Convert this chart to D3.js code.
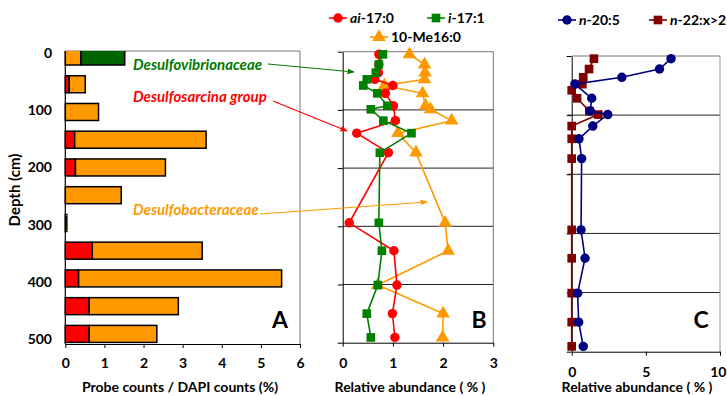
<!DOCTYPE html>
<html>
<head>
<meta charset="utf-8">
<script src="https://cdn.jsdelivr.net/npm/d3@7"></script>
<style>
  body { margin: 0; background: #fff; }
  text { font-family: Lato, "Open Sans", sans-serif; font-weight: bold; }
</style>
</head>
<body>
<div id="chart"></div>
<script>
// panel A: FISH probe counts, one bar per sample
var barDepths = ["0", "50", "100", "150", "200", "250", "300", "350", "400", "450", "500"];
var dsrRed    = [0, 0.10, 0, 0.24, 0.26, 0, 0, 0.69, 0.34, 0.61, 0.61];
var dsbOrange = [0.40, 0.41, 0.85, 3.36, 2.30, 1.43, 0.04, 2.81, 5.19, 2.28, 1.73];
var dsvGreen  = [1.12, 0, 0, 0, 0, 0, 0, 0, 0, 0, 0];
var depthTicks = [0, 100, 200, 300, 400, 500];

// panels B and C: fatty acid profiles
var faDepth = [4.5, 22, 36, 47.5, 58, 71.5, 93, 99, 118.5, 140, 173.5, 294, 342, 401, 450, 491];
var ai170  = [0.72, 0.72, 0.71, 0.64, 1.00, 0.85, 1.01, null, 1.05, 0.28, 0.91, 0.13, 1.02, 1.08, 0.99, 1.04];
var i171   = [0.80, 0.72, 0.66, 0.48, 0.41, 0.69, 0.89, 0.56, 0.81, 1.37, 0.74, 0.72, 0.78, 0.70, 0.48, 0.56];
var me160  = [1.33, 1.63, 1.64, 1.63, 0.83, 1.59, 1.65, 1.75, 2.17, 1.10, 1.46, 2.04, 2.10, 0.70, 2.00, 1.99];
var n205   = [6.70, 5.92, 3.38, 0.21, null, 1.35, 1.25, 2.43, 1.42, 0.49, 0.67, 0.63, 0.90, 0.40, 0.47, 0.78];
var n22    = [1.50, 1.17, 0.78, 0.72, 0, 0.36, 1.19, 1.79, 0, 0, 0, 0, 0, 0, 0, 0];

var W = 727, H = 396;
var svg = d3.select("#chart").append("svg")
    .attr("width", W)
    .attr("height", H);

var defs = svg.append("defs");
["#007a00", "#ff0000", "#ff9900"].forEach(function (c, i) {
  defs.append("marker")
      .attr("id", "arr" + i)
      .attr("viewBox", "0 0 10 10")
      .attr("refX", 9).attr("refY", 5)
      .attr("markerWidth", 6).attr("markerHeight", 6)
      .attr("orient", "auto")
      .append("path")
      .attr("d", "M0,1 L10,5 L0,9 z")
      .attr("fill", c);
});
defs.append("clipPath").attr("id", "clipA")
    .append("rect").attr("x", 60).attr("y", 51).attr("width", 250).attr("height", 293);

// ---------- Panel A ----------
var xA = d3.scaleLinear().domain([0, 6]).range([65.3, 300]);
var yBand = d3.scaleBand().domain(barDepths).range([48, 342.4]).paddingInner(0.387).paddingOuter(0);
var yLab = d3.scaleLinear().domain([0, 500]).range([53, 339]);

var table = barDepths.map(function (d, i) {
  return { depth: d, red: dsrRed[i], orange: dsbOrange[i], green: dsvGreen[i] };
});
var stacked = d3.stack().keys(["red", "orange", "green"])(table);
var barColor = { red: "#ff0000", orange: "#ff9900", green: "#006400" };

var gA = svg.append("g");
gA.append("line").attr("x1", 65.3).attr("x2", 300).attr("y1", 51).attr("y2", 51).attr("stroke", "#777");
gA.append("line").attr("x1", 300).attr("x2", 300).attr("y1", 51).attr("y2", 344).attr("stroke", "#777");

gA.append("g").attr("clip-path", "url(#clipA)")
  .selectAll("g").data(stacked).enter().append("g")
  .attr("fill", function (s) { return barColor[s.key]; })
  .selectAll("rect").data(function (s) { return s.filter(function (d) { return d[1] > d[0]; }); })
  .enter().append("rect")
  .attr("x", function (d) { return xA(d[0]); })
  .attr("width", function (d) { return xA(d[1]) - xA(d[0]); })
  .attr("y", function (d) { return yBand(d.data.depth); })
  .attr("height", yBand.bandwidth())
  .attr("stroke", "#000")
  .attr("stroke-width", 1.5);

gA.append("g").attr("transform", "translate(0,344)")
  .call(d3.axisBottom(xA).ticks(6).tickSize(4).tickSizeOuter(0).tickPadding(10))
  .call(function (g) { g.selectAll("text").attr("font-size", 14).attr("fill", "#000"); });
gA.append("line").attr("x1", 65.3).attr("x2", 65.3).attr("y1", 51).attr("y2", 344).attr("stroke", "#000").attr("stroke-width", 1.2);

gA.selectAll(".ylab").data(depthTicks).enter().append("text")
  .attr("x", 52).attr("y", function (d) { return yLab(d); })
  .attr("dy", "0.35em").attr("text-anchor", "end").attr("font-size", 14)
  .text(function (d) { return d; });

gA.append("text").attr("transform", "translate(20,190) rotate(-90)")
  .attr("text-anchor", "middle").attr("font-size", 15).text("Depth (cm)");
gA.append("text").attr("x", 180).attr("y", 392).attr("text-anchor", "middle")
  .attr("font-size", 14).text("Probe counts / DAPI counts (%)");
gA.append("text").attr("x", 280).attr("y", 328).attr("text-anchor", "middle")
  .attr("font-size", 23).text("A");

// ---------- Panel B ----------
var xB = d3.scaleLinear().domain([0, 3]).range([342.7, 493.3]);
var yB = d3.scaleLinear().domain([0, 500]).range([51.7, 342.7]);
var gB = svg.append("g");

gB.selectAll(".grid").data(depthTicks.slice(1, 5)).enter().append("line")
  .attr("x1", xB(0)).attr("x2", xB(3))
  .attr("y1", function (d) { return yB(d); }).attr("y2", function (d) { return yB(d); })
  .attr("stroke", "#222");
gB.append("line").attr("x1", xB(0)).attr("x2", xB(3)).attr("y1", yB(0)).attr("y2", yB(0)).attr("stroke", "#777");
gB.append("line").attr("x1", xB(3)).attr("x2", xB(3)).attr("y1", yB(0)).attr("y2", yB(500)).attr("stroke", "#777");
gB.append("g").attr("transform", "translate(" + xB(0) + ",0)")
  .call(d3.axisLeft(yB).tickValues(depthTicks).tickSize(5).tickSizeOuter(0).tickFormat(""));
gB.append("g").attr("transform", "translate(0," + yB(500) + ")")
  .call(d3.axisBottom(xB).ticks(3).tickSize(4).tickSizeOuter(0).tickPadding(11))
  .call(function (g) { g.selectAll("text").attr("font-size", 14).attr("fill", "#000"); });

function drawSeries(g, xs, ys, vals, color, shape, size) {
  var pts = faDepth.map(function (d, i) { return { d: d, v: vals[i] }; })
    .filter(function (p) { return p.v !== null; });
  g.append("path").datum(pts)
    .attr("fill", "none").attr("stroke", color).attr("stroke-width", 1.6)
    .attr("d", d3.line().x(function (p) { return xs(p.v); }).y(function (p) { return ys(p.d); }));
  g.selectAll(null).data(pts).enter().append("path")
    .attr("transform", function (p) { return "translate(" + xs(p.v) + "," + ys(p.d) + ")"; })
    .attr("d", d3.symbol().type(shape).size(size))
    .attr("fill", color);
}

drawSeries(gB, xB, yB, me160, "#ff9900", d3.symbolTriangle, 80);
drawSeries(gB, xB, yB, ai170, "#ff0000", d3.symbolCircle, 70);
drawSeries(gB, xB, yB, i171, "#008000", d3.symbolSquare, 75);

gB.append("text").attr("x", 410).attr("y", 392).attr("text-anchor", "middle")
  .attr("font-size", 14).text("Relative abundance ( % )");
gB.append("text").attr("x", 479).attr("y", 328).attr("text-anchor", "middle")
  .attr("font-size", 23).text("B");

// legend entries
function legendItem(g, x, y, color, shape, size, parts) {
  g.append("line").attr("x1", x).attr("x2", x + 18).attr("y1", y).attr("y2", y)
    .attr("stroke", color).attr("stroke-width", 1.6);
  g.append("path").attr("transform", "translate(" + (x + 9) + "," + y + ")")
    .attr("d", d3.symbol().type(shape).size(size)).attr("fill", color);
  var t = g.append("text").attr("x", x + 21).attr("y", y).attr("dy", "0.35em").attr("font-size", 14);
  parts.forEach(function (p) {
    t.append("tspan").attr("font-style", p[1] ? "italic" : "normal").text(p[0]);
  });
}
legendItem(gB, 329, 18, "#ff0000", d3.symbolCircle, 70, [["ai", true], ["-17:0", false]]);
legendItem(gB, 427, 18, "#008000", d3.symbolSquare, 75, [["i", true], ["-17:1", false]]);
legendItem(gB, 370, 37, "#ff9900", d3.symbolTriangle, 80, [["10-Me16:0", false]]);

// ---------- Panel C ----------
var xC = d3.scaleLinear().domain([0, 10]).range([571.7, 720]);
var yC = d3.scaleLinear().domain([0, 500]).range([56, 351.7]);
var gC = svg.append("g");

gC.selectAll(".grid").data(depthTicks.slice(1, 5)).enter().append("line")
  .attr("x1", xC(0) - 4).attr("x2", xC(10))
  .attr("y1", function (d) { return yC(d); }).attr("y2", function (d) { return yC(d); })
  .attr("stroke", "#222");
gC.append("line").attr("x1", xC(0)).attr("x2", xC(10)).attr("y1", yC(0)).attr("y2", yC(0)).attr("stroke", "#777");
gC.append("line").attr("x1", xC(10)).attr("x2", xC(10)).attr("y1", yC(0)).attr("y2", yC(500)).attr("stroke", "#999");
gC.append("g").attr("transform", "translate(0," + yC(500) + ")")
  .call(d3.axisBottom(xC).tickValues([0, 5, 10]).tickSize(4).tickSizeOuter(0).tickPadding(11))
  .call(function (g) {
    g.selectAll("text").attr("font-size", 14).attr("fill", "#000");
    // keep the last label inside the window
    g.selectAll(".tick:last-of-type text").attr("text-anchor", "end").attr("x", 6);
  });
gC.append("g").attr("transform", "translate(" + xC(0) + ",0)")
  .call(d3.axisLeft(yC).tickValues(depthTicks).tickSize(5).tickSizeOuter(0).tickFormat(""));

drawSeries(gC, xC, yC, n22, "#800000", d3.symbolSquare, 75);
drawSeries(gC, xC, yC, n205, "#000080", d3.symbolCircle, 70);

gC.append("text").attr("x", 637).attr("y", 392).attr("text-anchor", "middle")
  .attr("font-size", 14).text("Relative abundance ( % )");
gC.append("text").attr("x", 701).attr("y", 328).attr("text-anchor", "middle")
  .attr("font-size", 23).text("C");

legendItem(gC, 558, 20, "#000080", d3.symbolCircle, 70, [["n", true], ["-20:5", false]]);
legendItem(gC, 649, 20, "#800000", d3.symbolSquare, 75, [["n", true], ["-22:x>2", false]]);

// ---------- annotations ----------
var notes = [
  { t: "Desulfovibrionaceae", c: "#007a00", x: 133, y: 70, ax: [268, 64, 354, 72], m: 0 },
  { t: "Desulfosarcina group", c: "#ff0000", x: 133, y: 102, ax: [273, 101, 347, 131], m: 1 },
  { t: "Desulfobacteraceae", c: "#ff9900", x: 133, y: 215, ax: [260, 214, 427, 202], m: 2 }
];
notes.forEach(function (n) {
  svg.append("text").attr("x", n.x).attr("y", n.y).attr("font-size", 15)
    .attr("font-style", "italic").attr("font-weight", "normal").attr("fill", n.c).text(n.t);
  svg.append("line").attr("x1", n.ax[0]).attr("y1", n.ax[1]).attr("x2", n.ax[2]).attr("y2", n.ax[3])
    .attr("stroke", n.c).attr("stroke-width", 1.2).attr("marker-end", "url(#arr" + n.m + ")");
});
</script>
</body>
</html>
